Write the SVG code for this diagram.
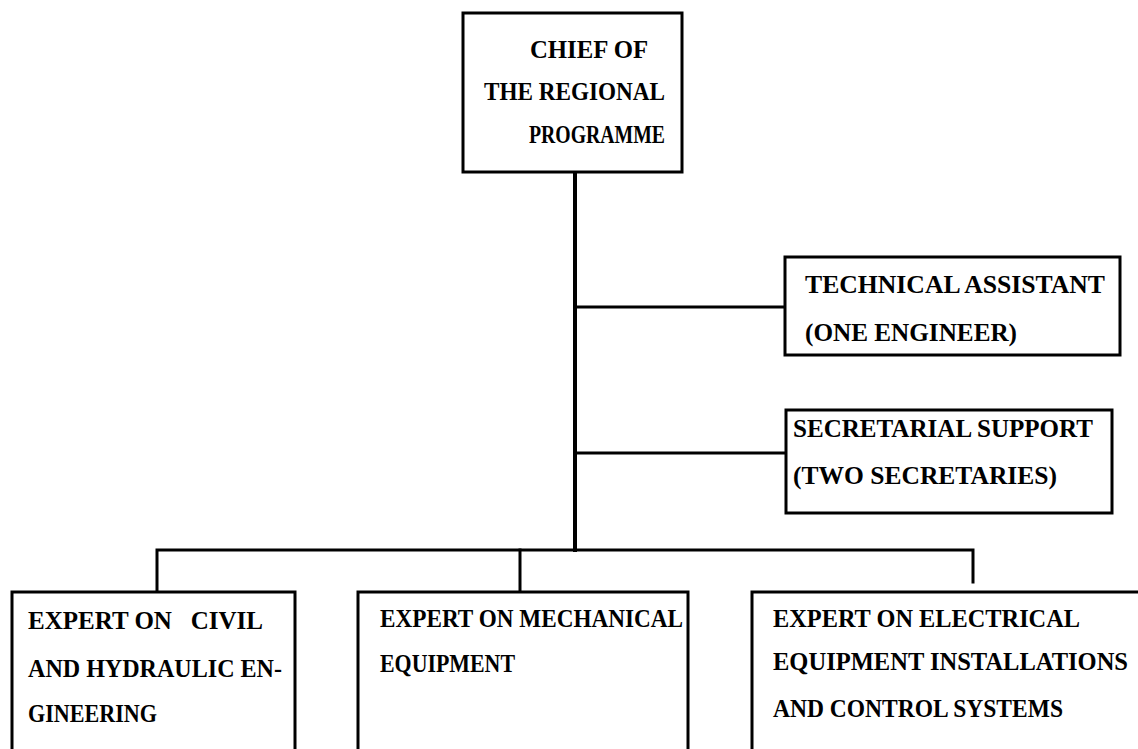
<svg xmlns="http://www.w3.org/2000/svg" width="1138" height="749" viewBox="0 0 1138 749">
  <style>
    .box { fill: #ffffff; stroke: #000000; stroke-width: 3; }
    .wire { fill: none; stroke: #000000; stroke-width: 3; stroke-linecap: square; }
    .trunk { stroke-width: 4; }
    text { font-family: "Liberation Serif", "Times New Roman", serif; font-weight: bold; font-size: 25px; fill: #000000; white-space: pre; }
  </style>
  <rect x="0" y="0" width="1138" height="749" fill="#ffffff"/>

  <!-- connectors -->
  <g id="connectors">
    <line class="wire trunk" x1="575" y1="172" x2="575" y2="550"/>
    <line class="wire" x1="575" y1="307" x2="785" y2="307"/>
    <line class="wire" x1="575" y1="453" x2="786" y2="453"/>
    <polyline class="wire" points="157,592 157,550 973,550 973,582"/>
    <line class="wire" x1="520" y1="550" x2="520" y2="592"/>
  </g>

  <!-- head of programme -->
  <g id="chief">
    <rect class="box" x="463" y="13" width="219" height="159"/>
    <text x="530" y="58" textLength="118" lengthAdjust="spacingAndGlyphs">CHIEF OF</text>
    <text x="484" y="100" textLength="181" lengthAdjust="spacingAndGlyphs">THE REGIONAL</text>
    <text x="529" y="143" textLength="136" lengthAdjust="spacingAndGlyphs">PROGRAMME</text>
  </g>

  <g id="technical-assistant">
    <rect class="box" x="785" y="257" width="335" height="98"/>
    <text x="805" y="293" textLength="300" lengthAdjust="spacingAndGlyphs">TECHNICAL ASSISTANT</text>
    <text x="805" y="341" textLength="212" lengthAdjust="spacingAndGlyphs">(ONE ENGINEER)</text>
  </g>

  <g id="secretarial-support">
    <rect class="box" x="786" y="410" width="326" height="103"/>
    <text x="793" y="437" textLength="300" lengthAdjust="spacingAndGlyphs">SECRETARIAL SUPPORT</text>
    <text x="793" y="484" textLength="264" lengthAdjust="spacingAndGlyphs">(TWO SECRETARIES)</text>
  </g>

  <g id="expert-civil">
    <rect class="box" x="12" y="592" width="283" height="180"/>
    <text x="28" y="629" textLength="235" lengthAdjust="spacingAndGlyphs" xml:space="preserve">EXPERT ON   CIVIL</text>
    <text x="28" y="677" textLength="254" lengthAdjust="spacingAndGlyphs">AND HYDRAULIC EN-</text>
    <text x="28" y="722" textLength="129" lengthAdjust="spacingAndGlyphs">GINEERING</text>
  </g>

  <g id="expert-mechanical">
    <rect class="box" x="358" y="592" width="330" height="180"/>
    <text x="380" y="627" textLength="303" lengthAdjust="spacingAndGlyphs">EXPERT ON MECHANICAL</text>
    <text x="380" y="672" textLength="135" lengthAdjust="spacingAndGlyphs">EQUIPMENT</text>
  </g>

  <g id="expert-electrical">
    <rect class="box" x="752" y="592" width="420" height="180"/>
    <text x="773" y="627" textLength="307" lengthAdjust="spacingAndGlyphs">EXPERT ON ELECTRICAL</text>
    <text x="773" y="670" textLength="355" lengthAdjust="spacingAndGlyphs">EQUIPMENT INSTALLATIONS</text>
    <text x="773" y="717" textLength="290" lengthAdjust="spacingAndGlyphs">AND CONTROL SYSTEMS</text>
  </g>
</svg>
